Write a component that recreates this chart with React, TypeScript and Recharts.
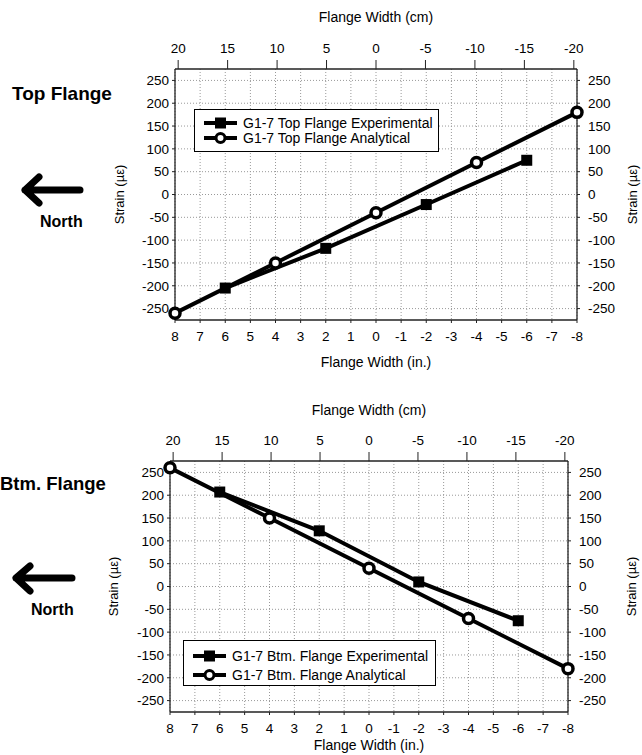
import React from "react";
import {
  LineChart,
  Line,
  XAxis,
  YAxis,
  CartesianGrid,
  Legend,
} from "recharts";

// flange positions (in.) where gauges / analysis points sit
const EXP_X = [6, 2, -2, -6];
const ANA_X = [8, 4, 0, -4, -8];

// strains (microstrain)
const TOP_EXP = [-205, -118, -22, 75];
const TOP_ANA = [-260, -150, -40, 70, 180];
const BTM_EXP = [207, 122, 10, -75];
const BTM_ANA = [260, 150, 40, -70, -180];

const IN_TICKS = [8, 7, 6, 5, 4, 3, 2, 1, 0, -1, -2, -3, -4, -5, -6, -7, -8];
const CM_TICKS = [20, 15, 10, 5, 0, -5, -10, -15, -20];
const STRAIN_TICKS = [250, 200, 150, 100, 50, 0, -50, -100, -150, -200, -250];

const FONT = '"Liberation Sans", Arial, sans-serif';
const TICK = { fill: "#000", fontSize: 13.5 };
const AXIS_LINE = { stroke: "#222", strokeWidth: 1.3 };

const toPoints = (xs: number[], ys: number[]) => xs.map((x, i) => ({ x, y: ys[i] }));

const SquareDot = (p: any) => {
  if (p.cx == null || p.cy == null) return null;
  return <rect key={p.key} x={p.cx - 5.5} y={p.cy - 5.5} width={11} height={11} fill="#000" />;
};

function LegendIcon({ kind }: { kind: "square" | "circle" }) {
  return (
    <svg width={35} height={14} style={{ display: "block" }}>
      <line x1={1} y1={7} x2={34} y2={7} stroke="#000" strokeWidth={4} />
      {kind === "square" ? (
        <rect x={12} y={1.5} width={11} height={11} fill="#000" />
      ) : (
        <circle cx={17.5} cy={7} r={4.5} fill="#fff" stroke="#000" strokeWidth={3} />
      )}
    </svg>
  );
}

function makeLegend(order: string[], pad: string, rowH: number, gap: number) {
  return (props: any) => {
    const items = [...(props.payload || [])].sort(
      (a: any, b: any) => order.indexOf(a.value) - order.indexOf(b.value)
    );
    return (
      <div
        style={{
          border: "1px solid #000",
          background: "#fff",
          width: "100%",
          height: "100%",
          boxSizing: "border-box",
          padding: pad,
          fontSize: 14,
          color: "#000",
        }}
      >
        {items.map((e: any) => (
          <div key={e.value} style={{ display: "flex", alignItems: "center", height: rowH }}>
            <LegendIcon kind={e.value.includes("Experimental") ? "square" : "circle"} />
            <span style={{ marginLeft: gap, whiteSpace: "nowrap" }}>{e.value}</span>
          </div>
        ))}
      </div>
    );
  };
}

interface PanelProps {
  height: number;
  margin: { top: number; right: number; bottom: number; left: number };
  leftW: number;
  rightW: number;
  topH: number;
  bottomH: number;
  topTitleOffset: number;
  bottomTitleOffset: number;
  rightLabelOffset: number;
  exp: number[];
  ana: number[];
  expName: string;
  anaName: string;
  legendBox: { left: number; top: number; width: number; height: number };
  legendPad: string;
  legendRow: number;
  legendGap: number;
}

function FlangePanel(p: PanelProps) {
  return (
    <LineChart width={642} height={p.height} margin={p.margin}>
      <CartesianGrid
        xAxisId="in"
        yAxisId="left"
        stroke="#999"
        strokeDasharray="1 2"
        verticalValues={IN_TICKS}
        horizontalValues={STRAIN_TICKS}
      />
      <XAxis
        xAxisId="in"
        type="number"
        dataKey="x"
        domain={[-8, 8]}
        reversed
        ticks={IN_TICKS}
        interval={0}
        tick={TICK}
        tickSize={3}
        tickMargin={8}
        axisLine={AXIS_LINE}
        tickLine={{ stroke: "#222" }}
        height={p.bottomH}
        label={{
          value: "Flange Width (in.)",
          position: "insideBottom",
          offset: p.bottomTitleOffset,
          style: { fill: "#000", fontSize: 14 },
        }}
      />
      <XAxis
        xAxisId="cm"
        orientation="top"
        type="number"
        dataKey="x"
        domain={[-8, 8]}
        reversed
        ticks={CM_TICKS.map((c) => c / 2.54)}
        tickFormatter={(v: number) => String(Math.round(v * 2.54))}
        interval={0}
        tick={TICK}
        tickSize={9}
        tickMargin={7}
        axisLine={AXIS_LINE}
        tickLine={{ stroke: "#222" }}
        height={p.topH}
        label={{
          value: "Flange Width (cm)",
          position: "insideTop",
          offset: p.topTitleOffset,
          style: { fill: "#000", fontSize: 14 },
        }}
      />
      <YAxis
        yAxisId="left"
        type="number"
        domain={[-275, 275]}
        ticks={STRAIN_TICKS}
        interval={0}
        tick={TICK}
        tickSize={3}
        tickMargin={3}
        axisLine={AXIS_LINE}
        tickLine={{ stroke: "#222" }}
        width={p.leftW}
        label={{
          value: "Strain (µε)",
          angle: -90,
          position: "insideLeft",
          offset: 5,
          style: { fill: "#000", fontSize: 13, textAnchor: "middle" },
        }}
      />
      <YAxis
        yAxisId="right"
        orientation="right"
        type="number"
        domain={[-275, 275]}
        ticks={STRAIN_TICKS}
        interval={0}
        tick={TICK}
        tickSize={3}
        tickMargin={8}
        axisLine={AXIS_LINE}
        tickLine={{ stroke: "#222" }}
        width={p.rightW}
        label={{
          value: "Strain (µε)",
          angle: -90,
          position: "insideRight",
          offset: p.rightLabelOffset,
          style: { fill: "#000", fontSize: 13, textAnchor: "middle" },
        }}
      />
      <Line
        xAxisId="in"
        yAxisId="left"
        name={p.expName}
        data={toPoints(EXP_X, p.exp)}
        dataKey="y"
        stroke="#000"
        strokeWidth={4}
        dot={SquareDot}
        activeDot={false}
        isAnimationActive={false}
      />
      <Line
        xAxisId="cm"
        yAxisId="right"
        name={p.anaName}
        data={toPoints(ANA_X, p.ana)}
        dataKey="y"
        stroke="#000"
        strokeWidth={4}
        dot={{ r: 5, fill: "#fff", stroke: "#000", strokeWidth: 3.5 }}
        activeDot={false}
        isAnimationActive={false}
      />
      <Legend
        layout="vertical"
        align="center"
        verticalAlign="middle"
        content={makeLegend([p.expName, p.anaName], p.legendPad, p.legendRow, p.legendGap)}
        wrapperStyle={{ position: "absolute", ...p.legendBox }}
      />
    </LineChart>
  );
}

const sideLabel: React.CSSProperties = {
  position: "absolute",
  fontWeight: "bold",
  color: "#000",
  whiteSpace: "nowrap",
  lineHeight: 1,
};

export default function App() {
  return (
    <div
      style={{
        position: "absolute",
        left: 0,
        top: 0,
        width: 642,
        height: 755,
        background: "#fff",
        fontFamily: FONT,
        overflow: "hidden",
      }}
    >
      <div style={{ position: "absolute", left: 0, top: 0 }}>
        <FlangePanel
          height={380}
          margin={{ top: 5, right: 0, bottom: 0, left: 114 }}
          leftW={61}
          rightW={65}
          topH={64}
          bottomH={60}
          topTitleOffset={7}
          bottomTitleOffset={13}
          rightLabelOffset={10}
          exp={TOP_EXP}
          ana={TOP_ANA}
          expName="G1-7 Top Flange Experimental"
          anaName="G1-7 Top Flange Analytical"
          legendBox={{ left: 194, top: 109, width: 245, height: 43 }}
          legendPad="5px 0 0 8px"
          legendRow={15}
          legendGap={5}
        />
      </div>
      <div style={{ position: "absolute", left: 0, top: 380 }}>
        <FlangePanel
          height={375}
          margin={{ top: 15, right: 5, bottom: 0, left: 108 }}
          leftW={62}
          rightW={69}
          topH={66}
          bottomH={43}
          topTitleOffset={10}
          bottomTitleOffset={5}
          rightLabelOffset={6}
          exp={BTM_EXP}
          ana={BTM_ANA}
          expName="G1-7 Btm. Flange Experimental"
          anaName="G1-7 Btm. Flange Analytical"
          legendBox={{ left: 183, top: 260, width: 253, height: 46 }}
          legendPad="5px 0 0 8px"
          legendRow={19}
          legendGap={5}
        />
      </div>

      <div style={{ ...sideLabel, left: 12, top: 84, fontSize: 19 }}>Top Flange</div>
      <div style={{ ...sideLabel, left: 0, top: 475, fontSize: 18.5 }}>Btm. Flange</div>
      <div style={{ ...sideLabel, left: 40, top: 214, fontSize: 16 }}>North</div>
      <div style={{ ...sideLabel, left: 31, top: 602, fontSize: 16 }}>North</div>

      <svg width={100} height={755} style={{ position: "absolute", left: 0, top: 0 }}>
        <path
          d="M80,190 L25,190 M39,177 L25,190 L39,203"
          fill="none"
          stroke="#000"
          strokeWidth={7}
          strokeLinecap="round"
          strokeLinejoin="round"
        />
        <path
          d="M72,578 L16,578 M30,566 L16,578 L30,591"
          fill="none"
          stroke="#000"
          strokeWidth={7}
          strokeLinecap="round"
          strokeLinejoin="round"
        />
      </svg>
    </div>
  );
}
